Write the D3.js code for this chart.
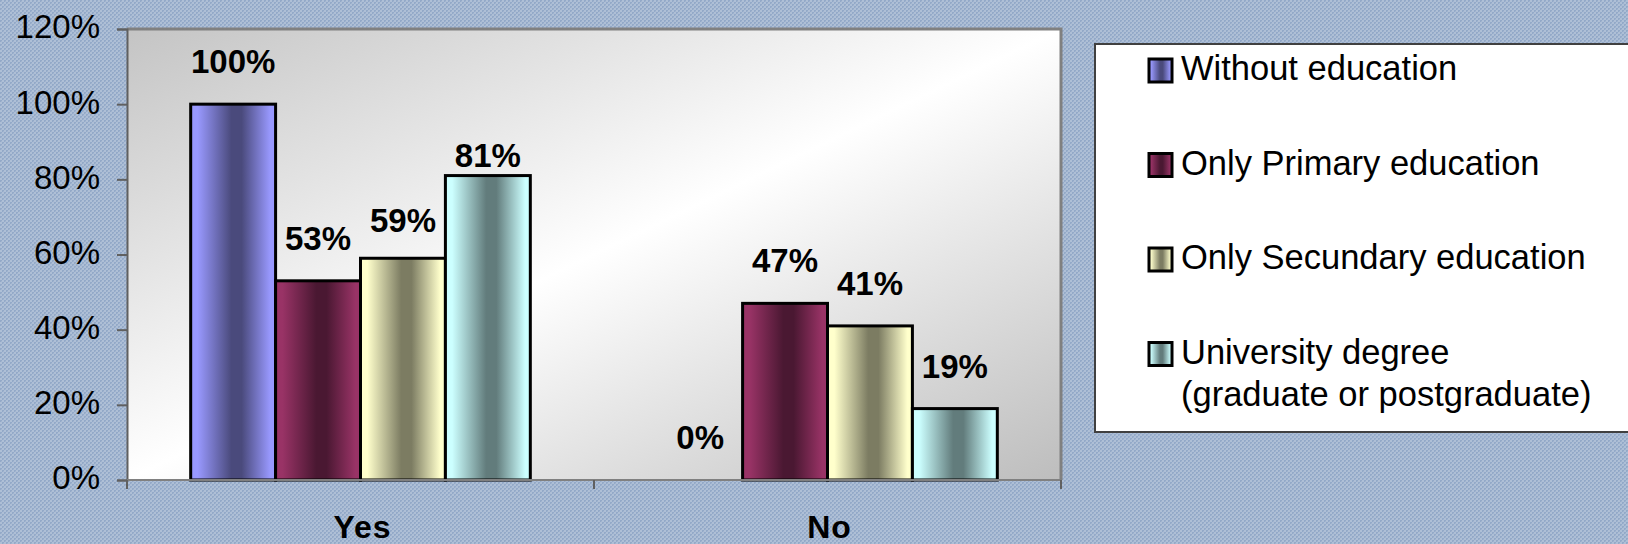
<!DOCTYPE html>
<html>
<head>
<meta charset="utf-8">
<script src="https://cdn.jsdelivr.net/npm/d3@7"></script>
<style>
    body { margin: 0; background: #a3b5cd; }
    svg { display: block; font-family: "Liberation Sans", Arial, sans-serif; }
</style>
</head>
<body>
<div id="chart-area"></div>
<script>

// Data
var categories = ["Yes", "No"];
var seriesKeys = ["without", "primary", "secundary", "university"];
var legendLabels = [
    ["Without education"],
    ["Only Primary education"],
    ["Only Secundary education"],
    ["University degree", "(graduate or postgraduate)"]
];
var withoutEducation = [1.00, 0.00];
var primaryEducation = [0.53, 0.47];
var secundaryEducation = [0.59, 0.41];
var universityDegree = [0.81, 0.19];
var yTicks = [0, 0.2, 0.4, 0.6, 0.8, 1.0, 1.2];

var seriesValues = [withoutEducation, primaryEducation, secundaryEducation, universityDegree];

// light edge / dark centre of each bar gradient
var barColors = {
    without:    { light: "#9999ff", dark: "#4a4a7c" },
    primary:    { light: "#993366", dark: "#4a1832" },
    secundary:  { light: "#ffffcc", dark: "#7c7c62" },
    university: { light: "#ccffff", dark: "#627c7c" }
};

// a couple of labels sit lower in the original
var labelNudge = { "Yes-university": 22, "Yes-secundary": 5 };

var margin = { top: 29, left: 127 };
var width = 934, height = 451;

var svg = d3.select("#chart-area").append("svg")
    .attr("width", 1628)
    .attr("height", 544);

var defs = svg.append("defs");

// textured blue background
var pat = defs.append("pattern")
    .attr("id", "bgTexture")
    .attr("width", 4).attr("height", 4)
    .attr("patternUnits", "userSpaceOnUse");
pat.append("rect").attr("width", 4).attr("height", 4).attr("fill", "#aebfd6");
pat.append("rect").attr("x", 0).attr("y", 0).attr("width", 2).attr("height", 2).attr("fill", "#93a9c8");
pat.append("rect").attr("x", 2).attr("y", 2).attr("width", 2).attr("height", 2).attr("fill", "#93a9c8");
pat.append("rect").attr("x", 1).attr("y", 1).attr("width", 1).attr("height", 1).attr("fill", "#a2b5cf");
pat.append("rect").attr("x", 3).attr("y", 3).attr("width", 1).attr("height", 1).attr("fill", "#a2b5cf");

svg.append("rect")
    .attr("width", 1628)
    .attr("height", 544)
    .attr("fill", "url(#bgTexture)");

// plot area diagonal gradient
var plotGrad = defs.append("linearGradient")
    .attr("id", "plotGrad")
    .attr("x1", 0).attr("y1", 0).attr("x2", 1).attr("y2", 1);
plotGrad.append("stop").attr("offset", "0%").attr("stop-color", "#c4c4c4");
plotGrad.append("stop").attr("offset", "50%").attr("stop-color", "#ffffff");
plotGrad.append("stop").attr("offset", "100%").attr("stop-color", "#bdbdbd");

// bar gradients
seriesKeys.forEach(function(k) {
    var g = defs.append("linearGradient")
        .attr("id", "grad-" + k)
        .attr("x1", 0).attr("y1", 0).attr("x2", 1).attr("y2", 0);
    g.append("stop").attr("offset", "0%").attr("stop-color", barColors[k].light);
    g.append("stop").attr("offset", "8%").attr("stop-color", barColors[k].light);
    g.append("stop").attr("offset", "48%").attr("stop-color", barColors[k].dark);
    g.append("stop").attr("offset", "60%").attr("stop-color", barColors[k].dark);
    g.append("stop").attr("offset", "94%").attr("stop-color", barColors[k].light);
    g.append("stop").attr("offset", "100%").attr("stop-color", barColors[k].light);
});

var vis = svg.append("g")
    .attr("transform", "translate(" + margin.left + "," + margin.top + ")");

vis.append("rect")
    .attr("width", width)
    .attr("height", height)
    .attr("fill", "url(#plotGrad)");

// gray frame on top and right
vis.append("path")
    .attr("d", "M0,0H" + width + "V" + height)
    .attr("fill", "none")
    .attr("stroke", "#808080")
    .attr("stroke-width", 3);

// Scales
var x0 = d3.scaleBand()
    .domain(categories)
    .range([0, width]);

var x1 = d3.scaleBand()
    .domain(seriesKeys)
    .range([0, x0.bandwidth()])
    .paddingOuter(0.75);

var y = d3.scaleLinear()
    .domain([0, 1.2])
    .range([height, 0]);

// Bars
var rows = categories.map(function(c, ci) {
    return seriesKeys.map(function(k, si) {
        return { category: c, key: k, value: seriesValues[si][ci] };
    });
});

var groups = vis.selectAll(".group")
    .data(rows)
    .enter().append("g")
    .attr("class", "group")
    .attr("transform", function(d) { return "translate(" + x0(d[0].category) + ",0)"; });

groups.selectAll("rect.bar")
    .data(function(d) { return d.filter(function(e) { return e.value > 0; }); })
    .enter().append("rect")
    .attr("class", "bar")
    .attr("x", function(d) { return x1(d.key); })
    .attr("width", x1.bandwidth())
    .attr("y", function(d) { return y(d.value); })
    .attr("height", function(d) { return height - y(d.value); })
    .attr("fill", function(d) { return "url(#grad-" + d.key + ")"; })
    .attr("stroke", "#000")
    .attr("stroke-width", 3);

groups.selectAll("text.value")
    .data(function(d) { return d; })
    .enter().append("text")
    .attr("class", "value")
    .attr("x", function(d) { return x1(d.key) + x1.bandwidth() / 2; })
    .attr("y", function(d) {
        return y(d.value) - 31 + (labelNudge[d.category + "-" + d.key] || 0);
    })
    .attr("text-anchor", "middle")
    .attr("font-size", 33)
    .attr("font-weight", "bold")
    .attr("fill", "#000")
    .text(function(d) { return d3.format(".0%")(d.value); });

// Axes
var yAxis = d3.axisLeft(y)
    .tickValues(yTicks)
    .tickSize(10)
    .tickPadding(17)
    .tickFormat(d3.format(".0%"));

var yAxisG = vis.append("g")
    .attr("class", "y-axis axis")
    .call(yAxis);
yAxisG.select(".domain").attr("stroke", "#606060").attr("stroke-width", 2);
yAxisG.selectAll(".tick line").attr("stroke", "#606060").attr("stroke-width", 2);
yAxisG.selectAll(".tick text")
    .attr("font-size", 33)
    .attr("font-family", "Liberation Sans, Arial, sans-serif")
    .attr("fill", "#000")
    .attr("dy", "0.27em");

// bottom axis: line plus ticks at the category boundaries
var xAxisG = vis.append("g")
    .attr("class", "x-axis axis")
    .attr("transform", "translate(0," + height + ")");
xAxisG.append("line")
    .attr("x1", 0).attr("x2", width)
    .attr("stroke", "#808080")
    .attr("stroke-width", 2);
xAxisG.selectAll(".cat-tick")
    .data([0].concat(categories.map(function(c) { return x0(c) + x0.bandwidth(); })))
    .enter().append("line")
    .attr("class", "cat-tick")
    .attr("x1", function(d) { return d; })
    .attr("x2", function(d) { return d; })
    .attr("y1", 0).attr("y2", 9)
    .attr("stroke", "#606060")
    .attr("stroke-width", 2);
xAxisG.selectAll(".cat-label")
    .data(categories)
    .enter().append("text")
    .attr("class", "cat-label")
    .attr("x", function(d) { return x0(d) + x0.bandwidth() / 2 + 2; })
    .attr("y", 58)
    .attr("text-anchor", "middle")
    .attr("font-size", 32)
    .attr("font-weight", "bold")
    .attr("letter-spacing", 1)
    .text(function(d) { return d; });

// Legend
var legend = svg.append("g")
    .attr("transform", "translate(1095,44)");

legend.append("rect")
    .attr("width", 560)
    .attr("height", 388)
    .attr("fill", "#fff")
    .attr("stroke", "#404040")
    .attr("stroke-width", 2);

var items = legend.selectAll(".legend-item")
    .data(seriesKeys)
    .enter().append("g")
    .attr("class", "legend-item")
    .attr("transform", function(d, i) { return "translate(0," + (36 + i * 94.5) + ")"; });

items.append("rect")
    .attr("x", 54)
    .attr("y", -21)
    .attr("width", 23)
    .attr("height", 23)
    .attr("fill", function(d) { return "url(#grad-" + d + ")"; })
    .attr("stroke", "#000")
    .attr("stroke-width", 3);

items.each(function(d, i) {
    var t = d3.select(this).append("text")
        .attr("x", 86)
        .attr("y", 0)
        .attr("font-size", 34.5)
        .attr("fill", "#000");
    legendLabels[i].forEach(function(line, j) {
        t.append("tspan")
            .attr("x", 86)
            .attr("dy", j === 0 ? 0 : 42)
            .text(line);
    });
});

</script>
</body>
</html>
